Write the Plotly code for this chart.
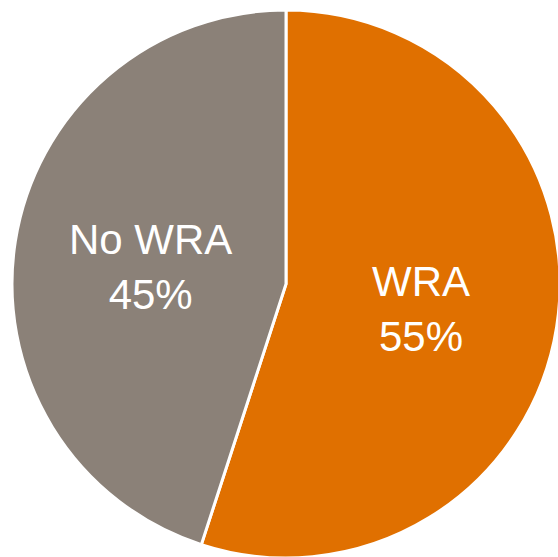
import math
import plotly.graph_objects as go

labels = ["WRA", "No WRA"]
values = [55, 45]
colors = ["#E07000", "#8B8178"]

W, H = 560, 558
# pie domain in paper coords (pie spans x 12..560, y 10..558 from top)
dom_x = [12 / W, 1.0]
dom_y = [0.0, (H - 10) / H]

fig = go.Figure(go.Pie(
    labels=labels, values=values, sort=False, direction="clockwise",
    rotation=0, marker=dict(colors=colors, line=dict(color="white", width=3)),
    textinfo="none", hoverinfo="label+percent", showlegend=False,
    domain=dict(x=dom_x, y=dom_y),
))

# pixel geometry of the pie
wpx = (dom_x[1] - dom_x[0]) * W
hpx = (dom_y[1] - dom_y[0]) * H
r = min(wpx, hpx) / 2
cx = (dom_x[0] + dom_x[1]) / 2 * W
cy = (dom_y[0] + dom_y[1]) / 2 * H  # from bottom

total = sum(values)
cum = 0
for lab, v in zip(labels, values):
    mid = (cum + v / 2) / total * 2 * math.pi
    cum += v
    # clockwise from 12 o'clock
    px = cx + 0.5 * r * math.sin(mid)
    py = cy + 0.5 * r * math.cos(mid)
    fig.add_annotation(
        x=px / W, y=py / H, xref="paper", yref="paper",
        text=f"{lab}<br>{round(v / total * 100)}%", showarrow=False,
        font=dict(family="Liberation Sans, Arial, sans-serif", size=42, color="white"),
        xanchor="center", yanchor="middle", align="center", yshift=-4,
    )

fig.update_layout(
    width=W, height=H, margin=dict(l=0, r=0, t=0, b=0),
    paper_bgcolor="white", plot_bgcolor="white",
)
fig.write_html(
    "out.html",
    config={"displayModeBar": False},
    post_script="document.body.style.margin='0';document.body.style.overflow='hidden';",
)
